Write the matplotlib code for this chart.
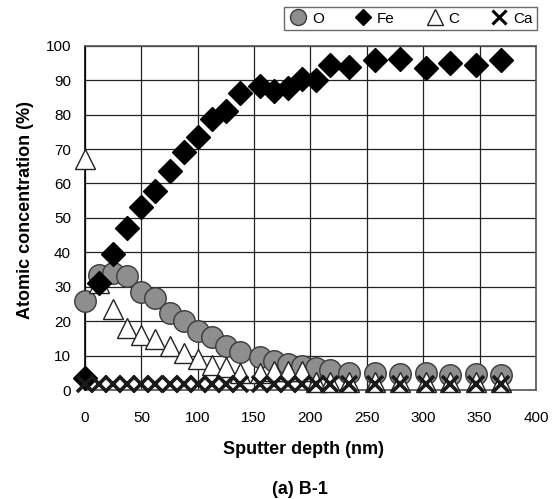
import matplotlib
matplotlib.use("Agg")
import matplotlib.pyplot as plt
from matplotlib.lines import Line2D

plt.rcParams["font.family"] = ["Liberation Sans", "DejaVu Sans"]

# Sputter depth (nm) shared by all elements
depth = [0, 12.5, 25, 37.5, 50, 62.5, 75, 87.5, 100, 112.5, 125, 137.5, 155,
         168, 180, 192.5, 205, 217.5, 234, 257, 279, 302, 324, 347, 369]

# Atomic concentration (%)
o_vals = [25.8, 33.5, 34, 33, 28.4, 26.6, 22.4, 20, 17.1, 15.4, 12.8, 11, 9.7,
          8.4, 7.7, 7, 6.5, 5.8, 5, 4.8, 4.6, 4.8, 4.4, 4.7, 4.5]
fe_vals = [3.5, 31, 39.6, 47, 53.2, 57.9, 63.5, 69, 73.6, 78.7, 80.9, 86.2, 88.3,
           86.9, 87.6, 90.3, 90, 94.4, 93.7, 95.9, 96, 93.4, 94.9, 94.4, 95.9]
c_vals = [67, 31, 23.4, 18, 15.9, 14.7, 12.8, 10.8, 8.9, 7.2, 6.7, 4.8, 4.8,
          5.5, 5.6, 5.6, 2.2, 2.2, 2.2, 2.2, 2.2, 2.2, 2.2, 2.2, 2.2]
ca_vals = [1.8] * len(depth)

fig = plt.figure(figsize=(5.57, 4.99), dpi=100)
ax = fig.add_axes([0.1526, 0.2184, 0.8097, 0.69])

ax.plot(depth, o_vals, "o", ms=15.5, mfc="#8e8e8e", mec="#3a3a3a", mew=1.0,
        clip_on=False, zorder=3)
ax.plot(depth, c_vals, "^", ms=15, mfc="white", mec="#222222", mew=1.0,
        clip_on=False, zorder=4)
ax.plot(depth, fe_vals, "D", ms=12, mfc="black", mec="black", mew=1.0,
        clip_on=False, zorder=5)
ax.plot(depth, ca_vals, "x", ms=12, mec="#1a1a1a", mew=2.6,
        clip_on=False, zorder=6)

ax.set_xlim(0, 400)
ax.set_ylim(0, 100)
ax.set_xticks(range(0, 401, 50))
ax.set_yticks(range(0, 101, 10))
ax.grid(True, color="#222222", lw=0.9)
ax.set_axisbelow(True)
ax.tick_params(length=0, labelsize=11)
ax.tick_params(axis="y", pad=10)
ax.tick_params(axis="x", pad=15)
for s in ax.spines.values():
    s.set_color("#555555")
    s.set_linewidth(1.2)
ax.spines["left"].set_color("black")

ax.set_xlabel("Sputter depth (nm)", fontsize=13, fontweight="bold", va="center")
ax.xaxis.set_label_coords((304 - 85) / 451, -0.174)
ax.set_ylabel("Atomic concentration (%)", fontsize=13, fontweight="bold",
              va="center")
ax.yaxis.set_label_coords(-0.133, 0.523)
fig.text(300 / 557, 1 - 489 / 499, "(a) B-1", ha="center", va="center",
         fontsize=13, fontweight="bold")

handles = [
    Line2D([], [], ls="none", marker="o", ms=11.5, mfc="#8e8e8e", mec="#3a3a3a"),
    Line2D([], [], ls="none", marker="D", ms=8, mfc="black", mec="black"),
    Line2D([], [], ls="none", marker="^", ms=11, mfc="white", mec="#222222"),
    Line2D([], [], ls="none", marker="x", ms=10, mec="black", mew=2.2),
]
leg = fig.legend(handles, ["O", "Fe", "C", "Ca"], ncol=4, loc="upper right",
                 bbox_to_anchor=(537 / 557, 1 - 7 / 499), fontsize=11,
                 frameon=True, fancybox=False, handlelength=1.2,
                 handletextpad=0.3, columnspacing=2.0, borderpad=0.3,
                 borderaxespad=0)
leg.get_frame().set_edgecolor("#444444")
leg.get_frame().set_linewidth(1.0)

fig.savefig("out.png", dpi=100)
